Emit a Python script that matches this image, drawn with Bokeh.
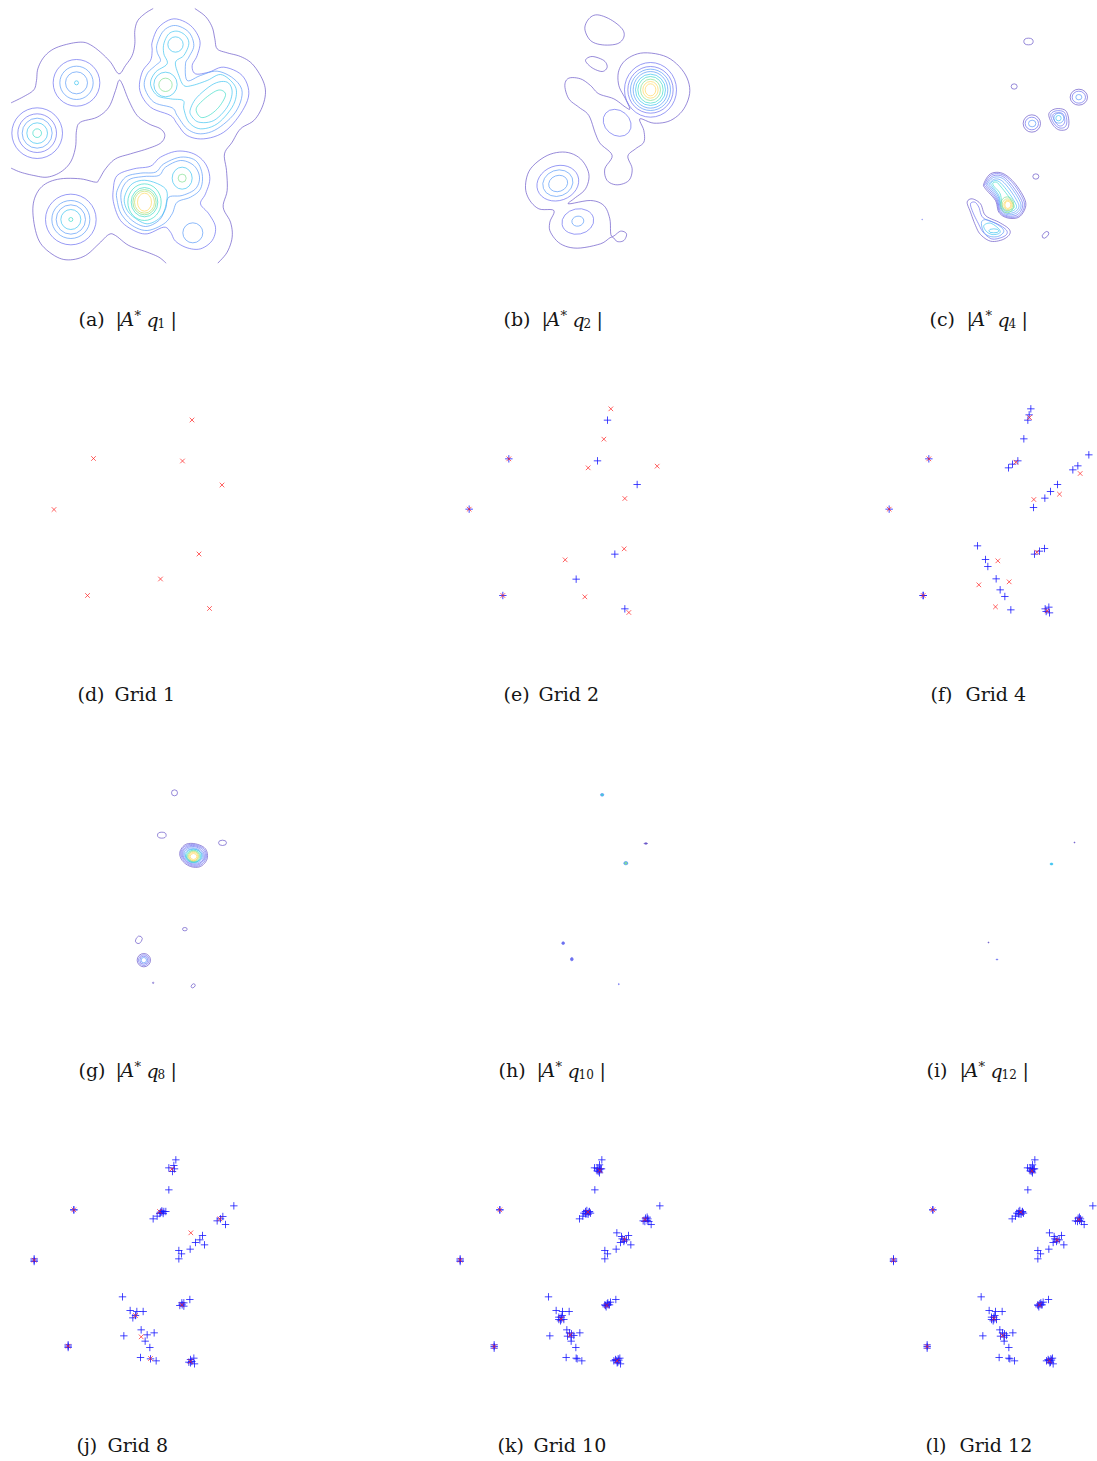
from bokeh.plotting import figure
from bokeh.models import Range1d
from bokeh.core.properties import value
from bokeh.embed import file_html
from bokeh.resources import INLINE

LEVEL_COLORS = ["#6a58c8", "#6c70f0", "#5c9cf8", "#40c4f0", "#40dcc8", "#84e094", "#c8e070", "#ffd860"]

# ---- traced contours: (level, [(x, y) ...]) in 3x crop units of each panel
A_OPEN = [
 (0, [(32,307),(70,288),(100,268),(108,240),(112,205),(130,170),(160,145),(205,130),(245,125),(270,133),(300,155),(330,185),(355,220),(375,195),(395,165),(403,130),(403,90),(412,60),(435,38),(458,24)]),
 (0, [(583,24),(615,48),(635,80),(643,115),(650,145),(680,157),(720,168),(755,190),(785,235),(795,275),(785,320),(760,360),(720,385),(695,425),(672,460),(678,510),(680,570),(668,620),(690,665),(695,710),(680,755),(652,788)]),
 (0, [(32,503),(60,515),(100,525),(140,530),(180,515),(210,485),(225,440),(228,390),(240,365),(290,350),(325,320),(345,270),(355,240),(365,250),(385,300),(410,345),(445,370),(480,385),(493,405),(480,428),(440,445),(390,460),(345,475),(315,505),(295,538),(285,545),(240,535),(180,535),(135,550),(108,580),(97,625),(105,690),(125,735),(170,770),(210,778),(255,765),(295,730),(325,702),(345,705),(385,735),(440,755),(475,770),(497,788)]),
]
A_CLOSED = [
 (1, [(350,525),(400,505),(450,497),(480,470),(530,452),(580,460),(615,490),(628,535),(615,580),(600,610),(625,640),(645,680),(635,720),(600,745),(560,742),(525,722),(510,695),(490,680),(440,700),(400,690),(360,660),(340,610),(338,570)]),
 (2, [(350,570),(375,530),(420,518),(465,515),(490,490),(540,470),(585,480),(605,520),(600,565),(570,590),(530,605),(515,640),(490,670),(440,690),(395,675),(362,640),(350,600)]),
 (2, [(362,575),(385,538),(430,528),(475,525),(495,500),(540,480),(580,495),(597,530),(585,565),(545,585),(505,590),(495,625),(475,660),(435,678),(395,660),(368,625)]),
 (3, [(372,590),(395,550),(440,540),(495,565),(497,610),(480,650),(440,670),(400,650),(378,625)]),
 (1, [(455,125),(475,80),(520,55),(570,75),(598,120),(590,165),(575,195),(585,220),(625,215),(670,200),(725,225),(745,280),(720,340),(670,395),(610,415),(560,405),(530,370),(510,345),(450,320),(418,270),(425,215),(450,180),(455,150)]),
 (2, [(470,130),(490,90),(525,75),(565,95),(580,135),(565,170),(555,190),(560,240),(600,225),(650,212),(700,235),(725,275),(705,335),(650,385),(600,400),(560,385),(530,345),(515,322),(460,305),(432,260),(440,220),(465,195),(480,180),(470,155)]),
 (3, [(490,130),(505,100),(530,92),(555,105),(565,130),(550,165),(525,185),(535,225),(550,255),(575,255),(620,240),(660,222),(695,245),(708,275),(695,320),(650,370),(600,385),(565,365),(550,325),(548,300),(510,295),(470,285),(450,250),(465,215),(500,190),(490,160)]),
 (3, [(570,325),(590,290),(640,250),(680,245),(695,275),(680,320),(640,360),(595,365),(572,345)]),
 (4, [(587,325),(610,297),(645,272),(665,270),(675,285),(655,320),(625,345),(600,350)]),
]
A_ELLIPSES = [
 (1,228,247,70,70,0),(2,228,247,50,50,0),(2,228,247,33,33,0),(3,228,247,6,6,0),
 (1,110,398,76,76,0),(1,110,398,58,58,0),(2,110,398,45,45,0),(3,110,398,31,31,0),(4,110,398,13,13,0),
 (1,211,657,76,76,0),(2,211,657,57,57,0),(2,211,657,44,44,0),(3,211,657,30,30,0),(4,211,657,6,6,0),
 (2,577,697,30,30,0),(3,525,132,23,23,0),(3,495,252,35,37,0),(5,495,253,20,20,0),
 (3,545,533,30,33,0),(5,545,533,12,12,0),
 (4,432,605,50,55,0),(4,432,605,40,44,0),(5,432,605,35,38,0),(6,432,605,30,33,0),(7,432,605,21,27,0),
]

B_CLOSED = [
 (0, [(223,70),(235,40),(260,28),(300,42),(335,70),(340,95),(320,115),(275,118),(240,105)]),
 (0, [(225,165),(245,153),(280,165),(290,185),(275,198),(245,187)]),
 (0, [(163,240),(175,218),(210,220),(240,240),(265,265),(310,280),(345,305),(358,310),(345,280),(325,240),(325,195),(350,160),(400,142),(470,155),(520,200),(538,255),(520,310),(480,345),(430,353),(388,340),(400,375),(400,410),(375,430),(352,452),(365,490),(355,525),(320,538),(290,525),(283,490),(305,450),(270,415),(255,385),(235,330),(205,305),(175,280)]),
 (0, [(45,540),(60,490),(110,450),(165,440),(210,460),(235,505),(225,550),(190,580),(175,595),(240,585),(280,600),(298,640),(303,692),(330,677),(348,685),(340,705),(320,708),(303,695),(270,715),(200,728),(150,715),(120,680),(118,650),(130,615),(85,610),(55,580)]),
]
B_ELLIPSES = [
 (1,320,352,45,37,-0.7),
 (1,420,253,78,82,0),(1,420,253,68,70,0),(2,420,253,60,62,0),(2,420,253,52,55,0),(3,420,253,45,47,0),(4,420,253,38,40,0),(5,420,253,30,32,0),(7,420,253,23,25,0),(7,420,253,16,18,0),
 (1,142,533,64,52,0.35),(2,142,533,46,39,0.35),(2,143,534,29,24,0.35),
 (1,202,648,48,38,0.2),(2,202,647,18,15,0.2),
]

C_CLOSED = [
 (0, [(205,460),(225,430),(260,428),(295,455),(325,500),(330,530),(310,560),(275,562),(250,545),(240,510),(210,475)]),
 (1, [(208,460),(228,433),(260,432),(292,458),(321,502),(326,530),(308,557),(275,559),(252,543),(242,508),(213,472)]),
 (1, [(212,460),(231,437),(260,437),(288,463),(316,505),(321,530),(305,553),(275,556),(254,540),(244,505),(217,470)]),
 (2, [(216,460),(234,441),(260,443),(285,468),(311,508),(316,530),(301,549),(274,552),(256,536),(246,502),(221,468)]),
 (2, [(221,460),(237,446),(258,450),(282,476),(305,512),(310,530),(297,545),(273,548),(257,532),(248,498),(226,468)]),
 (3, [(226,458),(240,450),(256,458),(280,487),(298,515),(303,530),(292,541),(272,543),(258,528),(250,495),(231,468)]),
 (4, [(232,458),(243,455),(254,466),(277,495),(290,515),(296,530),(285,538),(270,538),(260,525),(254,490),(236,468)]),
 (0, [(155,515),(170,505),(195,520),(210,555),(250,575),(280,595),(282,612),(260,628),(225,632),(195,612),(180,585),(165,545)]),
 (1, [(165,520),(178,515),(190,530),(203,562),(245,580),(272,598),(273,612),(255,622),(228,625),(203,605),(188,578),(172,545)]),
 (2, [(198,575),(215,568),(250,585),(265,602),(250,617),(225,618),(205,605)]),
 (3, [(205,585),(225,578),(250,595),(252,608),(230,612),(212,602)]),
 (0, [(400,250),(420,235),(450,240),(460,270),(455,295),(430,298),(410,280)]),
 (1, [(406,252),(422,241),(446,245),(454,270),(449,289),(431,292),(414,277)]),
 (1, [(412,254),(424,247),(442,250),(448,270),(443,283),(431,286),(419,274)]),
]
C_ELLIPSES = [
 (0,339,33,14,10,0),(0,296,168,9,8,0),
 (0,490,200,26,24,0),(1,490,200,20,18,0),(2,490,200,9,8,0),
 (0,349,279,26,26,0),(1,349,279,20,19,0),(2,350,279,11,10,0),
 (0,361,438,9,8,0),(0,390,613,12,7,0.8),(1,20,567,1,1,0),
 (2,430,263,15,15,0),(3,429,263,8,8,0),
 (5,275,523,20,24,0),(6,276,523,16,18,0),(7,277,523,12,14,0),(7,277,523,9,11,0),
 (3,235,601,15,6,0),
]

G_ELLIPSES = [
 (0,147,37,9,9,0),(0,109,164,13,9,0),(0,291,187,12,8,0),(0,178,446,7,5,0),
 (0,40,478,12,9,1.0),(0,203,616,7,5,0.8),(0,83,607,2,2,0),
 (0,55,539,20,20,0),(1,55,539,16,16,0),(1,55,539,12,12,0),(2,55,539,8,8,0),
 (3,204,226,24,20,0),(4,204,227,21,18,0),(5,204,227,18,16,0),(6,204,227,15,14,0),(7,204,228,13,12,0),(7,204,228,10,9,0),
]
G_CLOSED = [
 (0, [(163,215),(180,192),(210,190),(240,205),(245,235),(225,258),(195,258),(170,240)]),
 (1, [(166,215),(182,195),(210,193),(237,207),(242,233),(223,255),(196,255),(173,238)]),
 (1, [(169,216),(184,198),(210,196),(234,209),(239,232),(221,252),(197,252),(176,237)]),
 (1, [(172,216),(186,201),(210,199),(231,212),(236,232),(220,249),(197,249),(178,236)]),
 (2, [(175,217),(188,204),(210,203),(228,214),(233,231),(218,246),(198,246),(181,234)]),
 (2, [(178,218),(191,207),(210,206),(226,216),(230,230),(216,243),(199,243),(184,232)]),
]

H_SPOTS = [
 (2,185,43,5,4,0),(0,316,189,5,2,0),(2,256,248,6,5,0),
 (1,68,488,4,4,0),(1,94,536,4,5,0),(1,235,611,1,2,0),
]
H_CORES = [(4,185,43,2,2,0),(5,256,248,3,3,0)]
I_POINTS_X = [1074, 1051, 988, 996.5]
I_POINTS_Y = [842, 863.5, 942, 959]
I_LEVELS = [0, 3, 0, 1]
I_RX = [0.6, 1.5, 0.6, 0.8]
I_RY = [0.4, 0.9, 0.4, 0.5]

# ---- grid points, page pixels / 3x crops
D_RED = [(574.5,1258.5),(279,1374),(546,1381.5),(664.5,1453.5),(160.5,1527),(595.5,1660.5),(480,1735.5),(261,1785),(627,1824)]
E_RED = [(481,40),(460,131),(413,217),(620,212),(523,309),(521,460),(344,493),(403,604),(535,651),(175,190),(56,341),(157,600)]
E_BLUE = [(471,74),(441,196),(560,267),(493,476),(377,551),(523,640),(175,190),(56,341),(157,600)]
F_RED = [(477,66),(436,200),(629,234),(567,296),(490,312),(499,470),(382,496),(416,559),(325,568),(375,634),(530,646),(175,190),(56,341),(158,600)]
F_BLUE = [(481,40),(476,58),(472,74),(460,130),(442,196),(426,206),(414,217),(655,178),(622,211),(607,223),(561,267),(540,288),(523,308),(489,336),(321,451),(345,492),(352,513),(522,459),(507,467),(492,476),(377,550),(389,583),(403,603),(421,643),(535,635),(524,640),(537,652),(527,648),(175,190),(56,341),(158,600),(158,600)]
J_RED = [(454,71),(417,198),(598,220),(511,262),(484,478),(345,510),(362,574),(390,639),(510,648),(160,193),(41,344),(143,602)]
J_BLUE = [(466,43),(460,60),(445,67),(462,70),(456,78),(445,133),(424,200),(418,204),(410,212),(398,220),(430,198),(424,196),(428,204),(420,200),(436,198),(640,181),(607,213),(590,226),(600,220),(615,237),(546,270),(538,283),(525,291),(552,298),(509,311),(475,315),(483,325),(475,340),(306,454),(329,495),(349,498),(368,498),(337,517),(345,510),(508,462),(490,472),(478,480),(485,478),(484,472),(490,482),(362,553),(380,568),(401,562),(310,571),(374,587),(388,606),(360,636),(390,640),(407,646),(520,638),(510,642),(505,650),(522,655),(514,648),(510,652),(160,193),(160,193),(41,344),(41,340),(41,348),(143,602),(143,598),(143,606)]
K_RED = [(463,75),(427,200),(598,222),(537,281),(484,480),(347,520),(374,568),(515,646),(163,193),(44,344),(146,603)]
K_BLUE = [(469,43),(462,58),(447,67),(465,70),(458,70),(460,78),(455,68),(462,73),(468,70),(455,76),(462,82),(448,133),(420,198),(430,200),(424,205),(424,195),(432,198),(420,205),(428,206),(435,203),(415,203),(412,212),(402,220),(605,215),(605,225),(593,226),(600,218),(607,220),(598,228),(610,228),(617,237),(643,181),(514,262),(528,273),(549,270),(537,283),(530,280),(543,283),(535,288),(525,291),(556,298),(512,311),(478,315),(486,325),(478,340),(309,454),(332,495),(351,498),(371,498),(340,515),(350,510),(347,522),(340,522),(355,522),(347,515),(345,526),(511,462),(495,470),(485,475),(480,480),(488,478),(478,478),(487,472),(492,478),(482,484),(364,553),(378,565),(366,572),(385,570),(372,562),(377,575),(403,562),(313,571),(377,587),(391,606),(362,636),(392,638),(395,640),(409,646),(523,638),(512,645),(517,650),(525,655),(505,646),(520,644),(515,652),(510,642),(518,640),(163,193),(163,193),(44,344),(44,340),(44,348),(146,603),(146,598),(146,608)]
L_RED = [(469,76),(436,200),(610,222),(545,284),(492,478),(355,519),(381,570),(522,646),(172,193),(54,344),(155,603)]
L_BLUE = [(478,43),(471,58),(456,67),(474,70),(467,70),(469,78),(464,68),(471,73),(477,70),(464,76),(471,82),(457,133),(430,198),(440,200),(433,205),(433,195),(441,198),(429,205),(437,206),(444,203),(424,203),(420,212),(410,220),(612,215),(612,225),(600,226),(608,218),(615,220),(606,228),(618,228),(626,237),(652,181),(522,262),(536,273),(558,270),(545,283),(538,280),(551,283),(543,288),(533,291),(565,298),(520,311),(487,315),(495,325),(487,340),(317,454),(341,495),(360,498),(380,498),(348,515),(358,510),(355,522),(348,522),(363,522),(355,515),(353,526),(519,462),(503,470),(493,475),(488,480),(497,478),(487,478),(496,472),(500,478),(490,484),(373,553),(387,565),(375,572),(393,570),(381,562),(386,575),(412,562),(322,571),(386,587),(400,606),(371,636),(400,638),(403,640),(417,646),(531,638),(520,645),(525,650),(533,655),(513,646),(528,644),(523,652),(518,642),(526,640),(172,193),(172,193),(54,344),(54,340),(54,348),(155,603),(155,598),(155,608)]

# ---- captions
GRID_CAPTIONS = [("(d)","Grid 1",77,114,693),("(e)","Grid 2",503,538,693),("(f)","Grid 4",930,965,693),
                 ("(j)","Grid 8",76,107,1444),("(k)","Grid 10",497,533,1444),("(l)","Grid 12",925,959,1444)]
MATH_CAPTIONS = [("(a)","1",78,114,318),("(b)","2",503,540,318),("(c)","4",929,965,318),
                 ("(g)","8",78,114,1069),("(h)","10",498,535,1069),("(i)","12",926,958,1069)]

SERIF = "DejaVu Serif"
FS = 19

p = figure(width=1097, height=1461, x_range=Range1d(0, 1097), y_range=Range1d(1461, 0),
           output_backend="svg", toolbar_location=None, min_border=0)
p.axis.visible = False
p.grid.visible = False
p.outline_line_color = None
p.background_fill_color = "white"

LW = 0.7
CROSS_R = 3.7
X_R = 2.3
STEPS = 6

def to_page(pts, ox, oy):
    return [ox + x / 3 for x, _ in pts], [oy + y / 3 for _, y in pts]

def spline(vals, closed):
    # draws the traced outline as a smooth pen stroke through its points
    n = len(vals)
    out = []
    stop = n if closed else n - 1
    for i in range(stop):
        if closed:
            a, b, c, d = vals[i - 1], vals[i], vals[(i + 1) % n], vals[(i + 2) % n]
        else:
            a, b, c, d = vals[max(i - 1, 0)], vals[i], vals[i + 1], vals[min(i + 2, n - 1)]
        for s in range(STEPS):
            t = s / STEPS
            out.append(0.5 * (2 * b + (c - a) * t + (2 * a - 5 * b + 4 * c - d) * t * t + (3 * b - a - 3 * c + d) * t ** 3))
    out.append(vals[0] if closed else vals[-1])
    return out

def curve(level, pts, ox, oy, closed):
    xs, ys = to_page(pts, ox, oy)
    p.line(spline(xs, closed), spline(ys, closed), line_color=LEVEL_COLORS[level],
           line_width=LW, line_join="round")

def ellipses(items, ox, oy, filled=False):
    colors = [LEVEL_COLORS[e[0]] for e in items]
    p.ellipse(x=[ox + e[1] / 3 for e in items], y=[oy + e[2] / 3 for e in items],
              width=[2 * e[3] / 3 for e in items], height=[2 * e[4] / 3 for e in items],
              angle=[e[5] for e in items], fill_color=colors if filled else None,
              line_color=colors, line_width=LW)

for lv, pts in A_OPEN:
    curve(lv, pts, 0, 0, False)
for lv, pts in A_CLOSED:
    curve(lv, pts, 0, 0, True)
ellipses(A_ELLIPSES, 0, 0)
for lv, pts in B_CLOSED:
    curve(lv, pts, 510, 5, True)
ellipses(B_ELLIPSES, 510, 5)
for lv, pts in C_CLOSED:
    curve(lv, pts, 915, 30, True)
ellipses(C_ELLIPSES, 915, 30)
for lv, pts in G_CLOSED:
    curve(lv, pts, 125, 780, True)
ellipses(G_ELLIPSES, 125, 780)
ellipses(H_SPOTS, 540, 780, filled=True)
ellipses(H_CORES, 540, 780, filled=True)
p.ellipse(x=I_POINTS_X, y=I_POINTS_Y, width=[2 * r for r in I_RX], height=[2 * r for r in I_RY],
          fill_color=[LEVEL_COLORS[l] for l in I_LEVELS], line_color=[LEVEL_COLORS[l] for l in I_LEVELS], line_width=LW)

def marks(pts, ox, oy, kind):
    xs, ys = to_page(pts, ox, oy)
    if kind == "x":
        r = X_R
        p.segment([x - r for x in xs], [y - r for y in ys], [x + r for x in xs], [y + r for y in ys],
                  line_color="#ff2020", line_width=0.7)
        p.segment([x - r for x in xs], [y + r for y in ys], [x + r for x in xs], [y - r for y in ys],
                  line_color="#ff2020", line_width=0.7)
    else:
        r = CROSS_R
        p.segment([x - r for x in xs], ys, [x + r for x in xs], ys, line_color="#1818ff", line_width=0.8)
        p.segment(xs, [y - r for y in ys], xs, [y + r for y in ys], line_color="#1818ff", line_width=0.8)

marks(D_RED, 0, 0, "x")
for blue, red, ox, oy in [(E_BLUE, E_RED, 450, 395), (F_BLUE, F_RED, 870, 395),
                          (J_BLUE, J_RED, 20, 1145), (K_BLUE, K_RED, 445, 1145), (L_BLUE, L_RED, 875, 1145)]:
    marks(blue, ox, oy, "+")
    marks(red, ox, oy, "x")

def label(x, y, s, size=FS, style="normal"):
    p.text(x=[x], y=[y], text=[s], text_font=value(SERIF), text_font_size=f"{size}px",
           text_font_style=style, text_color="#151515", text_align="left", text_baseline="middle")

for tag, word, x0, x1, y in GRID_CAPTIONS:
    label(x0, y, tag)
    label(x1, y, word)
for tag, sub, x0, x1, y in MATH_CAPTIONS:
    label(x0, y, tag)
    extra = 8 * (len(sub) - 1)
    label(x1 + 1, y, "|")
    label(x1 + 6, y, "A", style="italic")
    label(x1 + 20, y - 3, "*", size=13)
    label(x1 + 32, y + 1, "q", style="italic")
    label(x1 + 43, y + 4, sub, size=12)
    label(x1 + 56 + extra, y, "|")

open("out.html", "w").write(file_html(p, INLINE))
